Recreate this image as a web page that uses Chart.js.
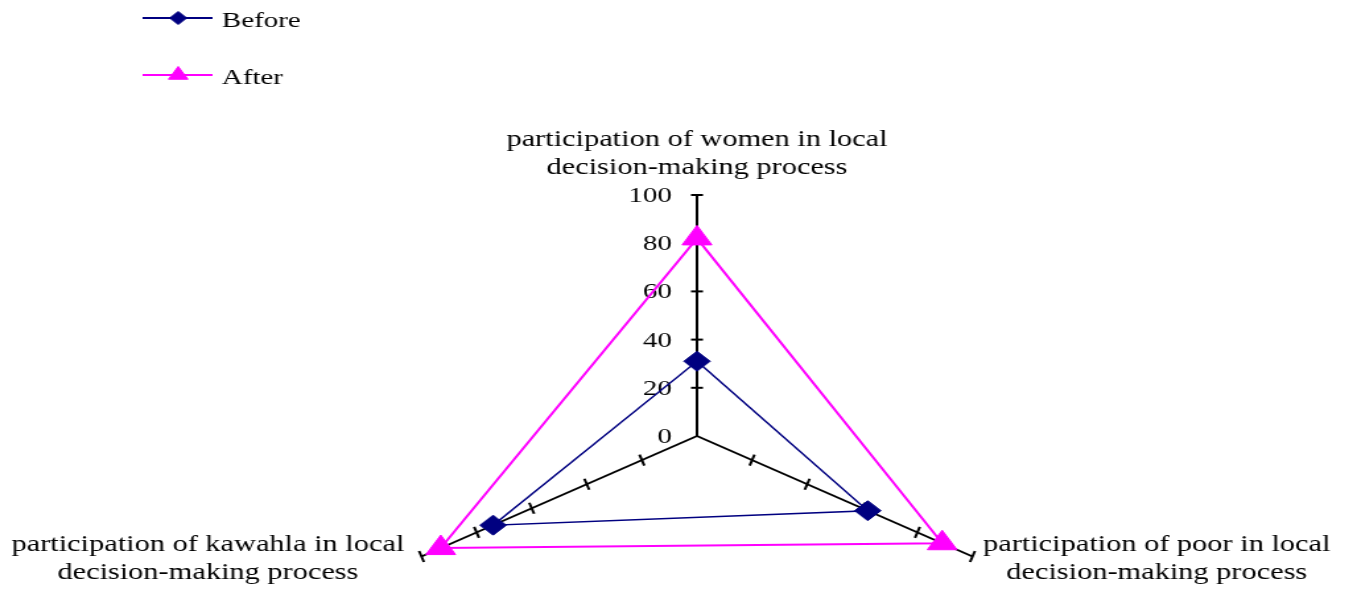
<!DOCTYPE html>
<html>
<head>
<meta charset="utf-8">
<script src="https://cdn.jsdelivr.net/npm/chart.js@4.4.0/dist/chart.umd.min.js"></script>
<style>
  html, body { margin: 0; padding: 0; background: #fff; }
  /* canvas jest wezszy a css go rozciaga w poziomie - tak jak w oryginalnym wykresie */
  #myChart { display: block; width: 1357px !important; height: 589px !important; }
</style>
</head>
<body>
<canvas id="myChart" width="1028" height="589" style="width:1357px;height:589px"></canvas>
<script>
const categories = [
    ['participation of women in local', 'decision-making process'],
    ['participation of poor in local', 'decision-making process'],
    ['participation of kawahla in local', 'decision-making process']
];
const seriesNames = ['Before', 'After'];
const beforeValues = [31, 62, 74];
const afterValues = [82, 89, 93];
const tickValues = [0, 20, 40, 60, 80, 100];

const SX = 1357 / 1028;           // rozciagniecie w poziomie
const CX = 528, CY = 436, RAD = 241; // srodek radaru i promien (w pikselach canvasa)
const FONT = '"Liberation Serif", "Times New Roman", serif';

const radarExtras = {
    id: 'radarExtras',
    afterLayout(chart) {
        // ustawiamy srodek sami, bez legendy i etykiet w layoucie
        const r = chart.scales.r;
        r.xCenter = CX;
        r.yCenter = CY;
        r.drawingArea = RAD;
    },
    beforeDatasetsDraw(chart) {
        const ctx = chart.ctx, r = chart.scales.r;
        ctx.save();
        ctx.strokeStyle = '#000';
        ctx.lineWidth = 2;
        // kreski na osiach
        r.ticks.forEach(t => {
            if (t.value === 0) return;
            for (let i = 0; i < categories.length; i++) {
                const p = r.getPointPositionForValue(i, t.value);
                const dx = (p.x - r.xCenter) * SX, dy = p.y - r.yCenter;
                const len = Math.hypot(dx, dy);
                const nx = -dy / len * 6 / SX, ny = dx / len * 6;
                ctx.beginPath();
                ctx.moveTo(p.x - nx, p.y - ny);
                ctx.lineTo(p.x + nx, p.y + ny);
                ctx.stroke();
            }
        });
        // liczby na pionowej osi
        ctx.font = '22px ' + FONT;
        ctx.fillStyle = '#000';
        ctx.textAlign = 'right';
        ctx.textBaseline = 'alphabetic';
        r.ticks.forEach(t => {
            const p = r.getPointPositionForValue(0, t.value);
            ctx.fillText(t.label, p.x - 19, p.y + 7);
        });
        ctx.restore();
    },
    afterDraw(chart) {
        const ctx = chart.ctx, r = chart.scales.r;
        ctx.save();
        ctx.fillStyle = '#000';
        ctx.font = '23px ' + FONT;
        ctx.textAlign = 'center';
        ctx.textBaseline = 'alphabetic';
        chart.data.labels.forEach((lines, i) => {
            const end = r.getPointPosition(i, r.drawingArea);
            const w = Math.max(...lines.map(s => ctx.measureText(s).width));
            let x, y;
            if (i === 0) { x = end.x; y = end.y - 49; }
            else if (end.x > r.xCenter) { x = end.x + 8 + w / 2; y = end.y - 6; }
            else { x = end.x - 13 - w / 2; y = end.y - 6; }
            lines.forEach((s, k) => ctx.fillText(s, x, y + k * 28));
        });

        // legenda recznie (pionowo w lewym gornym rogu)
        const legendY = [18, 75];
        chart.data.datasets.forEach((ds, i) => {
            const y = legendY[i];
            ctx.strokeStyle = ds.borderColor;
            ctx.lineWidth = 2;
            ctx.beginPath();
            ctx.moveTo(108, y);
            ctx.lineTo(161, y);
            ctx.stroke();
            ctx.fillStyle = ds.pointBackgroundColor;
            ctx.lineWidth = 1;
            Chart.helpers.drawPoint(ctx, {
                pointStyle: ds.pointStyle,
                radius: ds.pointStyle === 'triangle' ? 8.5 : 6.5,
                rotation: 0,
                borderWidth: 1
            }, 135, y);
            ctx.fillStyle = '#000';
            ctx.font = '22px ' + FONT;
            ctx.textAlign = 'left';
            ctx.fillText(ds.label, 168, y + 9);
        });
        ctx.restore();
    }
};

const ctx = document.getElementById('myChart').getContext('2d');
const myChart = new Chart(ctx, {
    type: 'radar',
    data: {
        labels: categories,
        datasets: [{
            label: seriesNames[0],
            data: beforeValues,
            borderColor: '#000080',
            backgroundColor: '#000080',
            borderWidth: 1.5,
            fill: false,
            pointStyle: 'rectRot',
            pointRadius: 10,
            pointBorderWidth: 1,
            pointBackgroundColor: '#000080',
            pointBorderColor: '#000080'
        }, {
            label: seriesNames[1],
            data: afterValues,
            borderColor: '#FF00FF',
            backgroundColor: '#FF00FF',
            borderWidth: 2,
            fill: false,
            pointStyle: 'triangle',
            pointRadius: 13,
            pointBorderWidth: 1,
            pointBackgroundColor: '#FF00FF',
            pointBorderColor: '#FF00FF'
        }]
    },
    options: {
        responsive: false,
        animation: false,
        events: [],
        plugins: {
            legend: { display: false },
            tooltip: { enabled: false }
        },
        elements: { line: { tension: 0 } },
        scales: {
            r: {
                min: tickValues[0],
                max: tickValues[tickValues.length - 1],
                ticks: { stepSize: tickValues[1] - tickValues[0], display: false },
                grid: { display: false },
                angleLines: { display: true, color: '#000', lineWidth: 2 },
                pointLabels: { display: false }
            }
        }
    },
    plugins: [radarExtras]
});
</script>
</body>
</html>
